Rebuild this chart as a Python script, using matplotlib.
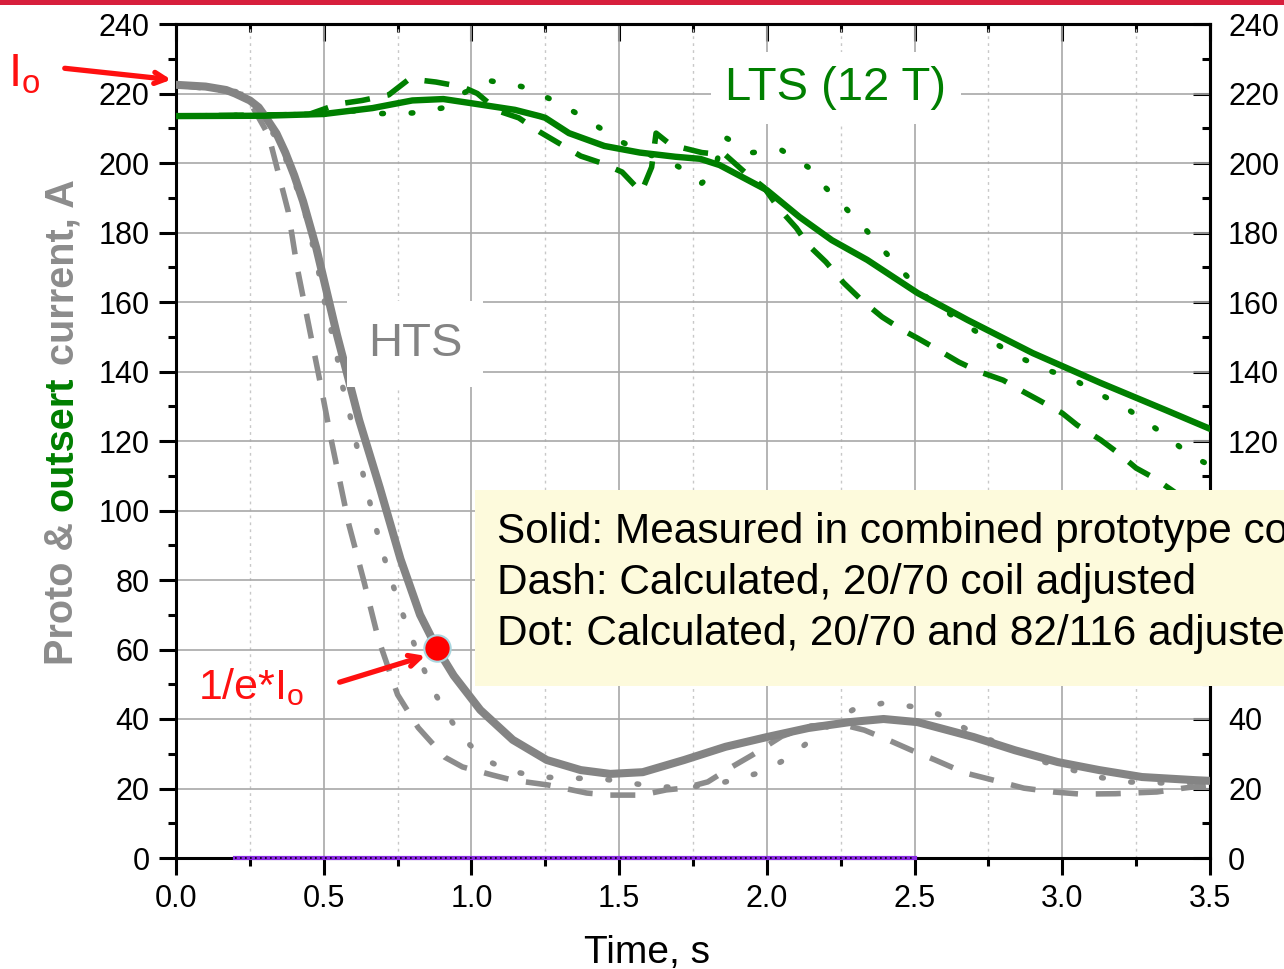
import matplotlib
matplotlib.use("Agg")
import matplotlib.pyplot as plt
from matplotlib.patches import Rectangle
from matplotlib.ticker import MultipleLocator, FuncFormatter, NullFormatter

plt.rcParams["font.family"] = ["Liberation Sans", "DejaVu Sans"]
plt.rcParams["mathtext.fontset"] = "custom"
plt.rcParams["mathtext.rm"] = "Liberation Sans"

W, H = 1284, 969

# --- HTS (prototype) current, gray ---
hts_meas_t = [0.0, 0.10, 0.17, 0.20, 0.25, 0.28, 0.305, 0.34, 0.37, 0.40, 0.43, 0.475, 0.51, 0.545,
              0.585, 0.62, 0.69, 0.76, 0.826, 0.883, 0.94, 1.03, 1.14, 1.255, 1.37, 1.47, 1.58,
              1.72, 1.86, 2.00, 2.14, 2.28, 2.395, 2.51, 2.70, 2.84, 2.985, 3.125, 3.27, 3.45, 3.5]
hts_meas_i = [222.5, 222.0, 221.0, 220.0, 218.0, 216.0, 213.0, 208.5, 203.0, 196.5, 189.0, 175.5, 163.0, 150.5,
              137.5, 126.0, 106.5, 86.0, 70.0, 60.4, 52.5, 42.6, 34.0, 28.2, 25.3, 24.2, 24.7,
              28.2, 32.0, 34.8, 37.4, 39.1, 40.0, 39.1, 34.8, 31.0, 27.6, 25.3, 23.3, 22.4, 22.2]

hts_dash_t = [0.0, 0.15, 0.237, 0.30, 0.315, 0.38, 0.41, 0.45, 0.49, 0.525, 0.585, 0.635,
              0.685, 0.75, 0.82, 0.91, 0.97, 1.07, 1.14, 1.26, 1.39, 1.47, 1.575, 1.66,
              1.72, 1.80, 1.875, 1.95, 2.05, 2.15, 2.25, 2.33, 2.41, 2.49, 2.57, 2.67,
              2.79, 2.87, 2.97, 3.06, 3.18, 3.32, 3.41, 3.5]
hts_dash_i = [222.5, 221.0, 219.5, 210.0, 207.5, 186.0, 170.0, 153.0, 136.0, 120.5, 96.0, 80.0,
              63.0, 47.0, 37.5, 29.0, 26.2, 23.9, 22.4, 21.0, 18.7, 18.1, 18.1, 19.6,
              20.1, 21.9, 25.9, 29.6, 35.0, 38.0, 38.5, 36.8, 34.0, 31.0, 28.2, 24.5,
              21.9, 20.1, 19.0, 18.4, 18.5, 19.0, 20.1, 21.0]

hts_dot_t = [0.0, 0.15, 0.23, 0.35, 0.43, 0.475, 0.51, 0.54, 0.56, 0.59, 0.63, 0.66, 0.69,
             0.725, 0.765, 0.81, 0.86, 0.915, 0.97, 1.05, 1.12, 1.23, 1.34, 1.45, 1.56,
             1.64, 1.75, 1.86, 1.97, 2.06, 2.12, 2.20, 2.29, 2.395, 2.50, 2.58, 2.70,
             2.84, 2.94, 3.01, 3.12, 3.22, 3.34, 3.5]
hts_dot_i = [222.5, 221.5, 220.0, 206.0, 188.0, 172.0, 157.0, 147.0, 137.0, 127.0, 111.6, 101.0, 90.6,
             80.9, 70.8, 60.7, 49.8, 41.7, 34.5, 28.2, 25.3, 23.3, 23.0, 22.7, 21.3,
             20.4, 20.5, 21.9, 24.4, 28.2, 32.0, 37.5, 42.6, 44.6, 43.5, 41.4, 36.0,
             31.0, 27.6, 25.9, 23.3, 21.9, 21.6, 21.5]

# --- LTS (outsert) current, green ---
lts_meas_t = [0.0, 0.3, 0.5, 0.665, 0.80, 0.905, 1.0, 1.147, 1.23, 1.25, 1.33, 1.45, 1.57,
              1.69, 1.774, 1.84, 2.0, 2.11, 2.22, 2.34, 2.51, 2.68, 2.90, 3.13, 3.35, 3.5]
lts_meas_i = [213.5, 213.6, 214.1, 215.8, 218.0, 218.4, 217.2, 215.3, 213.5, 213.0, 208.6, 204.9, 203.0,
              201.8, 201.2, 199.4, 192.2, 184.5, 177.8, 172.1, 162.6, 154.8, 145.3, 136.7, 128.9, 123.5]

lts_dash_t = [0.0, 0.45, 0.55, 0.63, 0.72, 0.79, 0.88, 0.97, 1.02, 1.09, 1.16, 1.23, 1.31,
              1.37, 1.44, 1.51, 1.575, 1.61, 1.625, 1.675, 1.78, 1.86, 1.93, 1.99, 2.04,
              2.10, 2.14, 2.20, 2.26, 2.32, 2.39, 2.46, 2.51, 2.58, 2.65, 2.72, 2.80,
              2.87, 2.92, 3.0, 3.05, 3.13, 3.19, 3.25, 3.31, 3.37, 3.5]
lts_dash_i = [213.5, 214.0, 217.0, 218.0, 219.6, 224.2, 223.3, 221.9, 220.0, 215.0, 213.0, 209.0, 205.0,
              202.0, 200.0, 197.4, 191.6, 198.8, 208.6, 205.2, 203.0, 202.3, 197.0, 193.0, 187.0,
              181.3, 176.4, 171.5, 165.5, 160.6, 155.7, 151.9, 149.6, 146.2, 142.7, 139.9, 137.5,
              134.1, 131.8, 128.0, 124.6, 120.3, 116.5, 112.2, 109.4, 105.9, 98.0]

lts_dot_t = [0.0, 0.50, 0.60, 0.68, 0.80, 0.90, 0.97, 1.06, 1.17, 1.27, 1.354, 1.44, 1.51,
             1.60, 1.70, 1.78, 1.825, 1.85, 1.95, 2.05, 2.14, 2.20, 2.26, 2.33, 2.40,
             2.47, 2.54, 2.61, 2.69, 2.77, 2.86, 2.95, 3.03, 3.12, 3.21, 3.29, 3.37, 3.43, 3.5]
lts_dot_i = [213.5, 214.0, 215.0, 214.2, 214.4, 215.8, 220.0, 223.7, 222.0, 218.3, 214.4, 209.8, 206.0,
             202.5, 199.0, 194.2, 198.0, 207.8, 203.0, 203.7, 198.8, 192.8, 187.6, 181.3, 174.4,
             167.8, 161.4, 157.1, 152.5, 148.2, 143.9, 140.4, 138.1, 133.8, 129.8, 125.2, 120.3, 116.0, 113.0]

# 1/e point and zero line
e_point_t = [0.883]
e_point_i = [60.4]
zero_t = [0.2, 2.5]
zero_i = [0.0, 0.0]

note_lines = ["Solid: Measured in combined prototype coil",
              "Dash: Calculated, 20/70 coil adjusted",
              "Dot: Calculated, 20/70 and 82/116 adjusted"]
# right-hand tick labels that sit under the note box
hidden_right = [60, 80, 100]

GRAY = "#848484"
GREEN = "#007f00"
RED = "#ff1010"


def fpx(x, y):
    # figure pixel (from top-left) -> figure fraction
    return (x / W, 1 - y / H)


fig = plt.figure(figsize=(W / 100, H / 100), dpi=100)
ax = fig.add_axes([176 / W, 1 - 858 / H, (1210 - 176) / W, (858 - 24) / H])

ax.set_xlim(0, 3.5)
ax.set_ylim(0, 240)
ax.xaxis.set_major_locator(MultipleLocator(0.5))
ax.xaxis.set_minor_locator(MultipleLocator(0.25))
ax.yaxis.set_major_locator(MultipleLocator(20))
ax.yaxis.set_minor_locator(MultipleLocator(10))
ax.xaxis.set_major_formatter(FuncFormatter(lambda v, p: f"{v:.1f}"))

ax.grid(which="major", color="#a8a8a8", lw=1.2, ls="-", zorder=0)
ax.grid(which="minor", axis="x", color="#c8c8c8", lw=1.0, ls=(0, (2, 3)), zorder=0)
ax.set_axisbelow(True)

for s in ax.spines.values():
    s.set_linewidth(2.2)
ax.tick_params(which="both", labelsize=22, width=2.2, direction="out", top=False, right=False)
ax.tick_params(which="major", length=12, pad=7)
ax.tick_params(which="minor", length=6)

# inward ticks on top and right
secx = ax.secondary_xaxis("top")
secx.xaxis.set_major_locator(MultipleLocator(0.5))
secx.xaxis.set_minor_locator(MultipleLocator(0.25))
secx.xaxis.set_major_formatter(NullFormatter())
secx.tick_params(which="both", direction="in", width=2.2, labeltop=False)
secx.tick_params(which="major", length=12)
secx.tick_params(which="minor", length=6)
secx.spines["top"].set_linewidth(2.2)

secy = ax.secondary_yaxis("right")
secy.yaxis.set_major_locator(MultipleLocator(20))
secy.yaxis.set_minor_locator(MultipleLocator(10))
secy.yaxis.set_major_formatter(
    FuncFormatter(lambda v, p: "" if round(v) in hidden_right else f"{v:.0f}"))
secy.tick_params(which="both", direction="in", width=2.2, labelsize=22)
secy.tick_params(which="major", length=12, pad=13)
secy.tick_params(which="minor", length=6)
secy.spines["right"].set_linewidth(2.2)

# zero line
ax.plot(zero_t, zero_i, color="#8a2be2", lw=3, zorder=3, clip_on=False)
ax.plot(zero_t, zero_i, color="black", lw=1.2, ls=(0, (1, 2)), zorder=3, clip_on=False)

# curves
dash_style = dict(lw=4.0, dashes=(4.5, 3.2), dash_capstyle="butt")
dot_style = dict(lw=4.0, dashes=(0.3, 5.0), dash_capstyle="round")
ax.plot(hts_dash_t, hts_dash_i, color="#8c8c8c", zorder=4, **dash_style)
ax.plot(hts_dot_t, hts_dot_i, color="#8c8c8c", zorder=4, **dot_style)
ax.plot(hts_meas_t, hts_meas_i, color=GRAY, lw=5.8, zorder=5, solid_capstyle="round",
        solid_joinstyle="round")
ax.plot(lts_dash_t, lts_dash_i, color=GREEN, zorder=4, **dash_style)
ax.plot(lts_dot_t, lts_dot_i, color=GREEN, zorder=4, **dot_style)
ax.plot(lts_meas_t, lts_meas_i, color=GREEN, lw=4.6, zorder=5, solid_capstyle="round",
        solid_joinstyle="round")

ax.plot(e_point_t, e_point_i, "o", ms=19, mfc="#ff0000", mec="#a9d6df", mew=1.5, zorder=8)

# labels on the curves
ax.text(2.234, 221.5, "LTS (12 T)", color=GREEN, fontsize=34, ha="center", va="center", zorder=6,
        bbox=dict(boxstyle="square,pad=0.3", fc="white", ec="none"))
ax.text(0.809, 147.9, "HTS", color=GRAY, fontsize=34, ha="center", va="center", zorder=6,
        bbox=dict(boxstyle="square,pad=0.45", fc="white", ec="none"))

# red annotations
fig.text(*fpx(8, 86), r"I$_{\mathregular{o}}$", color=RED, fontsize=34, va="baseline")
ax.annotate("", xy=fpx(174, 80), xytext=fpx(62, 68), xycoords="figure fraction",
            textcoords="figure fraction", zorder=9,
            arrowprops=dict(arrowstyle="->,head_length=0.8,head_width=0.4", color=RED, lw=3.8))
fig.text(*fpx(198, 699), r"1/e*I$_{\mathregular{o}}$", color=RED, fontsize=31, va="baseline")
ax.annotate("", xy=fpx(428, 655), xytext=fpx(337, 683), xycoords="figure fraction",
            textcoords="figure fraction", zorder=9,
            arrowprops=dict(arrowstyle="->,head_length=0.8,head_width=0.4", color=RED, lw=3.8))

# x label (sits left of the axes centre in the original)
fig.text(*fpx(647, 963), "Time, s", fontsize=28, ha="center", va="baseline")

# multi-colour y label
t1 = fig.text(*fpx(62, 665), "Proto & ", color="#8c8c8c", fontsize=28.5, fontweight="bold",
              rotation=90, ha="center", va="bottom")
t2 = fig.text(0, 0, "outsert", color=GREEN, fontsize=28.5, fontweight="bold", rotation=90,
              ha="center", va="bottom")
t3 = fig.text(0, 0, " current, A", color="#8c8c8c", fontsize=28.5, fontweight="bold", rotation=90,
              ha="center", va="bottom")
fig.canvas.draw()
r = fig.canvas.get_renderer()
bb = t1.get_window_extent(r)
t2.set_position(((bb.x0 + bb.x1) / 2 / fig.bbox.width, bb.y1 / fig.bbox.height))
bb = t2.get_window_extent(r)
t3.set_position(((bb.x0 + bb.x1) / 2 / fig.bbox.width, bb.y1 / fig.bbox.height))

# yellow note box, drawn over the axes (text runs off the right edge as in the original)
fig.patches.append(Rectangle(fpx(475, 686), (W - 475) / W, (686 - 490) / H, transform=fig.transFigure,
                             fc="#fdfadc", ec="none", zorder=1))
for k, line in enumerate(note_lines):
    fig.text(*fpx(497, 543 + 51 * k), line, fontsize=30.5, ha="left", va="baseline", zorder=3)

# red bar across the top
fig.patches.append(Rectangle((0, 1 - 5 / H), 1, 5 / H, transform=fig.transFigure,
                             fc="#d71f3c", ec="none", zorder=1))

fig.savefig("out.png", dpi=100)
